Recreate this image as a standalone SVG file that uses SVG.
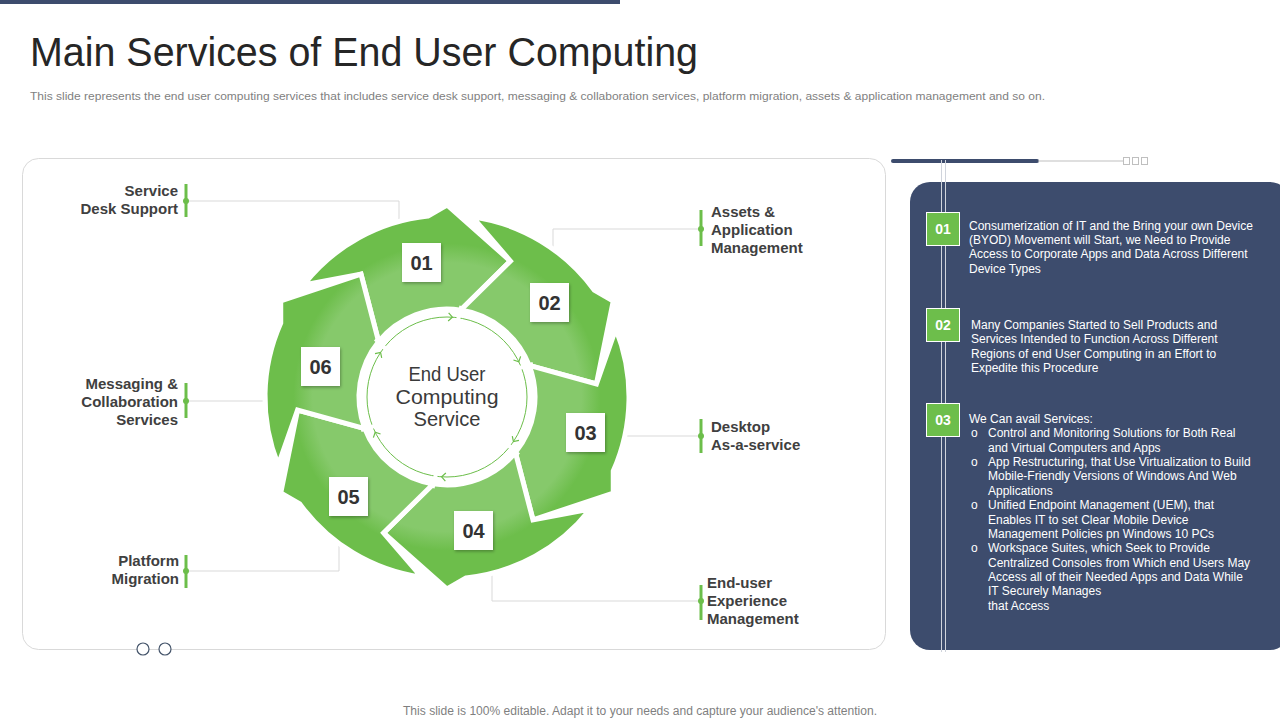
<svg xmlns="http://www.w3.org/2000/svg" xmlns:xlink="http://www.w3.org/1999/xlink" width="1280" height="720" viewBox="0 0 1280 720">
<style>
.title{font-family:"Liberation Sans",Arial,sans-serif;font-size:40px;fill:#262626}
.sub{font-family:"Liberation Sans",Arial,sans-serif;font-size:11.5px;fill:#7f7f7f}
.lbl{font-family:"Liberation Sans",Arial,sans-serif;font-size:15px;font-weight:bold;fill:#404040}
.ctr{font-family:"Liberation Sans",Arial,sans-serif;font-size:20px;fill:#3a3a3a;text-anchor:middle}
.num{font-family:"Liberation Sans",Arial,sans-serif;font-size:20px;font-weight:bold;fill:#333;text-anchor:middle}
.pt{font-family:"Liberation Sans",Arial,sans-serif;font-size:12px;fill:#ffffff}
.pn{font-family:"Liberation Sans",Arial,sans-serif;font-size:14px;font-weight:bold;fill:#ffffff;text-anchor:middle}
.conn{fill:none;stroke:#d9d9d9;stroke-width:1}
.mk{stroke:#6cbe4a;stroke-width:3}
.dot{fill:#6cbe4a}
.box{fill:#ffffff;filter:url(#sh)}
.gbox{fill:#6dbe4b;stroke:#ffffff;stroke-width:1}
.arw{fill:url(#ring);stroke:#ffffff;stroke-width:5;stroke-linejoin:miter}
.foot{font-family:"Liberation Sans",Arial,sans-serif;font-size:12px;fill:#7f7f7f;text-anchor:middle}
</style>
<defs>
<radialGradient id="ring" gradientUnits="userSpaceOnUse" cx="0" cy="0" r="192">
<stop offset="0" stop-color="#86c96b"/>
<stop offset="0.7" stop-color="#86c96b"/>
<stop offset="0.8" stop-color="#6dbe4b"/>
<stop offset="1" stop-color="#6dbe4b"/>
</radialGradient>
<filter id="sh" x="-20%" y="-20%" width="150%" height="150%">
<feDropShadow dx="1" dy="1.5" stdDeviation="1.5" flood-color="#000" flood-opacity="0.3"/>
</filter>
<path id="arw" class="arw" d="M -143.4,-112.1 A 182 182 0 0 1 -19.0,-181.0 L 0,-192 L 63.4,-135.9 L 13.8,-86.9 A 88 88 0 0 0 -68.4,-55.4 L -86.0,-122.9 Z"/>
<polyline id="sa" points="-3.5,-84 0.5,-80 -3.5,-76" fill="none" stroke="#6cbe4a" stroke-width="1.2"/>
</defs>

<rect x="0" y="0" width="620" height="4" fill="#3d4c6d"/>
<text class="title" x="30" y="66" textLength="668" lengthAdjust="spacingAndGlyphs">Main Services of End User Computing</text>
<text class="sub" x="30" y="100" textLength="1015" lengthAdjust="spacingAndGlyphs">This slide represents the end user computing services that includes service desk support, messaging &amp; collaboration services, platform migration, assets &amp; application management and so on.</text>

<rect id="left-panel" x="22.5" y="158.5" width="863" height="491" rx="16" fill="#ffffff" stroke="#d9d9d9"/>
<circle cx="143" cy="649" r="6" fill="#ffffff" stroke="#44546a" stroke-width="1.2"/>
<circle cx="165" cy="649" r="6" fill="#ffffff" stroke="#44546a" stroke-width="1.2"/>

<g id="connectors">
<path class="conn" d="M189,201 H399 V228"/>
<path class="conn" d="M698,229 H553 V256"/>
<path class="conn" d="M189,401 H272"/>
<path class="conn" d="M698,436 H618"/>
<path class="conn" d="M189,571 H339 V540"/>
<path class="conn" d="M698,601 H492 V572"/>
</g>

<g id="cycle" transform="translate(447,397)">
<g id="arrow-01"><use href="#arw"/></g>
<g id="arrow-02"><use href="#arw" transform="rotate(60)"/></g>
<g id="arrow-03"><use href="#arw" transform="rotate(120)"/></g>
<g id="arrow-04"><use href="#arw" transform="rotate(180)"/></g>
<g id="arrow-05"><use href="#arw" transform="rotate(240)"/></g>
<g id="arrow-06"><use href="#arw" transform="rotate(300)"/></g>
<circle cx="0" cy="0" r="88" fill="#ffffff"/>
<circle cx="0" cy="0" r="80" fill="none" stroke="#6cbe4a" stroke-width="1"/>
<g stroke="#ffffff" stroke-width="4">
<line x1="14.4" y1="-91" x2="11" y2="-77" transform="rotate(0)"/>
<line x1="14.4" y1="-91" x2="11" y2="-77" transform="rotate(60)"/>
<line x1="14.4" y1="-91" x2="11" y2="-77" transform="rotate(120)"/>
<line x1="14.4" y1="-91" x2="11" y2="-77" transform="rotate(180)"/>
<line x1="14.4" y1="-91" x2="11" y2="-77" transform="rotate(240)"/>
<line x1="14.4" y1="-91" x2="11" y2="-77" transform="rotate(300)"/>
</g>
<use href="#sa" transform="rotate(3.5)"/>
<use href="#sa" transform="rotate(63.5)"/>
<use href="#sa" transform="rotate(123.5)"/>
<use href="#sa" transform="rotate(183.5)"/>
<use href="#sa" transform="rotate(243.5)"/>
<use href="#sa" transform="rotate(303.5)"/>
</g>

<g id="center">
<text class="ctr" x="447" y="381" textLength="77" lengthAdjust="spacingAndGlyphs">End User</text>
<text class="ctr" x="447" y="404" textLength="103" lengthAdjust="spacingAndGlyphs">Computing</text>
<text class="ctr" x="447" y="426" textLength="67" lengthAdjust="spacingAndGlyphs">Service</text>
</g>

<g id="step-01"><rect class="box" x="402" y="243" width="39" height="39"/><text class="num" x="421.5" y="269.5">01</text></g>
<g id="step-02"><rect class="box" x="530" y="283" width="39" height="39"/><text class="num" x="549.5" y="309.5">02</text></g>
<g id="step-03"><rect class="box" x="566" y="413" width="39" height="39"/><text class="num" x="585.5" y="439.5">03</text></g>
<g id="step-04"><rect class="box" x="454" y="511" width="39" height="39"/><text class="num" x="473.5" y="537.5">04</text></g>
<g id="step-05"><rect class="box" x="329" y="477" width="39" height="39"/><text class="num" x="348.5" y="503.5">05</text></g>
<g id="step-06"><rect class="box" x="301" y="347" width="39" height="39"/><text class="num" x="320.5" y="373.5">06</text></g>

<g id="label-service-desk">
<line class="mk" x1="186" y1="184" x2="186" y2="217"/><circle class="dot" cx="186" cy="201" r="3"/>
<text class="lbl" x="178" y="196" text-anchor="end">Service</text>
<text class="lbl" x="178" y="214" text-anchor="end">Desk Support</text>
</g>
<g id="label-messaging">
<line class="mk" x1="186" y1="383" x2="186" y2="418"/><circle class="dot" cx="186" cy="401" r="3"/>
<text class="lbl" x="178" y="389" text-anchor="end">Messaging &amp;</text>
<text class="lbl" x="178" y="407" text-anchor="end">Collaboration</text>
<text class="lbl" x="178" y="425" text-anchor="end">Services</text>
</g>
<g id="label-platform">
<line class="mk" x1="186" y1="555" x2="186" y2="588"/><circle class="dot" cx="186" cy="571" r="3"/>
<text class="lbl" x="179" y="566" text-anchor="end">Platform</text>
<text class="lbl" x="179" y="584" text-anchor="end">Migration</text>
</g>
<g id="label-assets">
<line class="mk" x1="701" y1="210" x2="701" y2="246"/><circle class="dot" cx="701" cy="229" r="3"/>
<text class="lbl" x="711" y="217">Assets &amp;</text>
<text class="lbl" x="711" y="235">Application</text>
<text class="lbl" x="711" y="253">Management</text>
</g>
<g id="label-desktop">
<line class="mk" x1="701" y1="419" x2="701" y2="453"/><circle class="dot" cx="701" cy="436" r="3"/>
<text class="lbl" x="711" y="432">Desktop</text>
<text class="lbl" x="711" y="450">As-a-service</text>
</g>
<g id="label-enduser">
<line class="mk" x1="701" y1="585" x2="701" y2="620"/><circle class="dot" cx="701" cy="601" r="3"/>
<text class="lbl" x="707" y="588">End-user</text>
<text class="lbl" x="707" y="606">Experience</text>
<text class="lbl" x="707" y="624">Management</text>
</g>

<g id="right-panel">
<line x1="893" y1="161" x2="1037" y2="161" stroke="#3d4c6d" stroke-width="4" stroke-linecap="round"/>
<line x1="1038" y1="161" x2="1123" y2="161" stroke="#bfbfbf" stroke-width="1"/>
<g fill="#ffffff" stroke="#bfbfbf" stroke-width="1">
<rect x="1123.5" y="157.5" width="6" height="7"/>
<rect x="1132.5" y="157.5" width="6" height="7"/>
<rect x="1141.5" y="157.5" width="6" height="7"/>
</g>
<rect x="910" y="182" width="380" height="468" rx="20" fill="#3d4c6d"/>
<line x1="941.5" y1="160" x2="941.5" y2="652" stroke="#d0d4dc" stroke-width="1"/>
<line x1="945.5" y1="160" x2="945.5" y2="652" stroke="#d0d4dc" stroke-width="1"/>

<g id="item-01">
<rect class="gbox" x="926.5" y="212.5" width="33" height="33"/>
<text class="pn" x="943" y="234">01</text>
<text class="pt" x="969" y="230">Consumerization of IT  and the Bring your  own Device</text>
<text class="pt" x="969" y="244">(BYOD) Movement will Start, we Need to Provide</text>
<text class="pt" x="969" y="258">Access to Corporate Apps and Data Across Different</text>
<text class="pt" x="969" y="273">Device Types</text>
</g>
<g id="item-02">
<rect class="gbox" x="926.5" y="308.5" width="33" height="33"/>
<text class="pn" x="943" y="330">02</text>
<text class="pt" x="971" y="329">Many  Companies Started to Sell Products and</text>
<text class="pt" x="971" y="343">Services Intended to  Function Across Different</text>
<text class="pt" x="971" y="358">Regions of end User Computing in an Effort to</text>
<text class="pt" x="971" y="372">Expedite this Procedure</text>
</g>
<g id="item-03">
<rect class="gbox" x="926.5" y="403.5" width="33" height="33"/>
<text class="pn" x="943" y="425">03</text>
<text class="pt" x="969" y="423">We Can avail Services:</text>
<text class="pt" x="971" y="437">o</text><text class="pt" x="988" y="437">Control and Monitoring Solutions for Both Real</text>
<text class="pt" x="988" y="452">and Virtual  Computers and Apps</text>
<text class="pt" x="971" y="466">o</text><text class="pt" x="988" y="466">App Restructuring, that Use Virtualization to Build</text>
<text class="pt" x="988" y="480">Mobile-Friendly Versions of Windows And Web</text>
<text class="pt" x="988" y="495">Applications</text>
<text class="pt" x="971" y="509">o</text><text class="pt" x="988" y="509">Unified Endpoint Management (UEM), that</text>
<text class="pt" x="988" y="524">Enables IT to set Clear Mobile Device</text>
<text class="pt" x="988" y="538">Management Policies pn Windows 10 PCs</text>
<text class="pt" x="971" y="552">o</text><text class="pt" x="988" y="552">Workspace Suites, which Seek to Provide</text>
<text class="pt" x="988" y="567">Centralized Consoles from Which end Users May</text>
<text class="pt" x="988" y="581">Access all of their Needed Apps and Data While</text>
<text class="pt" x="988" y="595">IT  Securely Manages</text>
<text class="pt" x="988" y="610">that Access</text>
</g>
</g>

<text class="foot" x="640" y="715" textLength="474" lengthAdjust="spacingAndGlyphs">This slide is 100% editable. Adapt it to your needs and capture your audience's attention.</text>
</svg>
